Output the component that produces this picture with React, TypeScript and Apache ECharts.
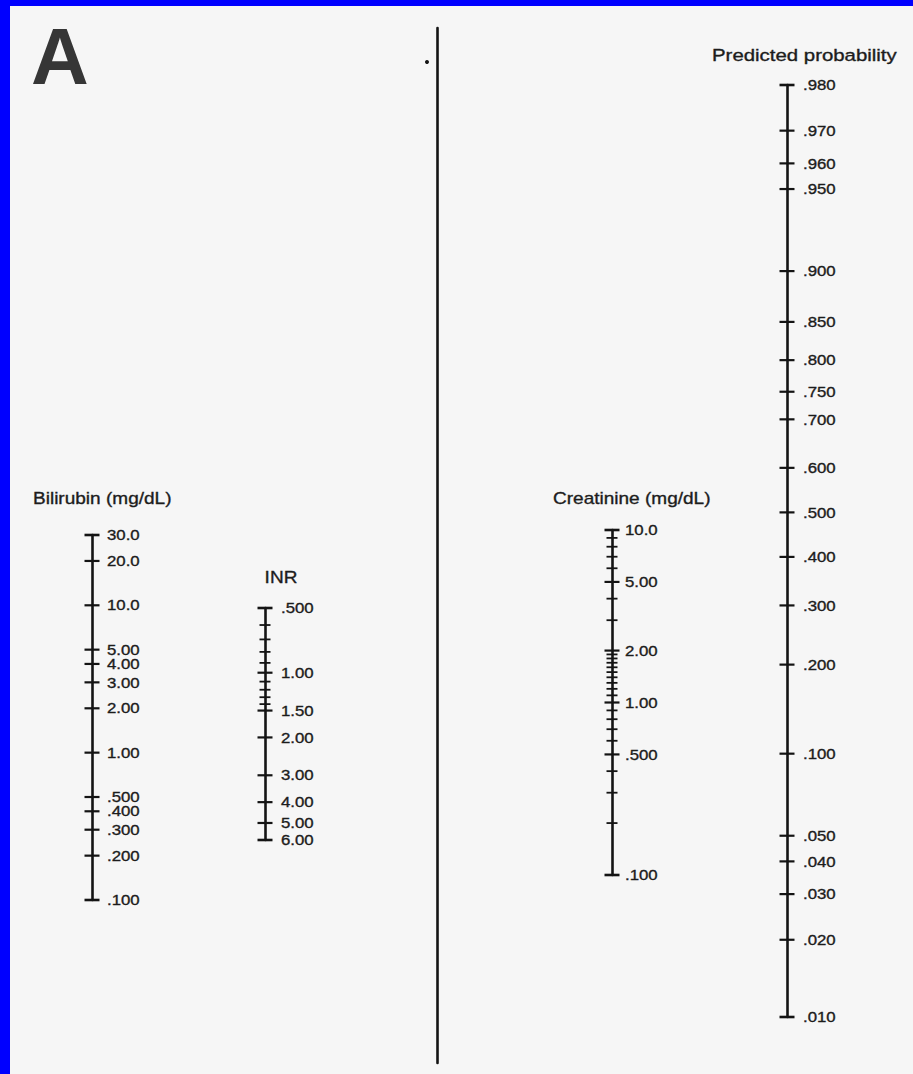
import React, { useEffect, useRef } from "react";
import * as echarts from "echarts";

// ---- data (tick values and their printed labels) ----
const bilirubinTicks = [30, 20, 10, 5, 4, 3, 2, 1, 0.5, 0.4, 0.3, 0.2, 0.1];
const bilirubinLabels = ["30.0", "20.0", "10.0", "5.00", "4.00", "3.00", "2.00", "1.00", ".500", ".400", ".300", ".200", ".100"];
const bilirubinMinor: number[] = [];

const inrTicks = [0.5, 1, 1.5, 2, 3, 4, 5, 6];
const inrLabels = [".500", "1.00", "1.50", "2.00", "3.00", "4.00", "5.00", "6.00"];
const inrMinor = [0.6, 0.7, 0.8, 0.9, 1.1, 1.2, 1.3, 1.4];

const creatinineTicks = [10, 5, 2, 1, 0.5, 0.1];
const creatinineLabels = ["10.0", "5.00", "2.00", "1.00", ".500", ".100"];
const creatinineMinor = [9, 8, 7, 6, 4, 3, 1.9, 1.8, 1.7, 1.6, 1.5, 1.4, 1.3, 1.2, 1.1, 0.9, 0.8, 0.7, 0.6, 0.4, 0.3, 0.2];

const probabilityTicks = [0.98, 0.97, 0.96, 0.95, 0.9, 0.85, 0.8, 0.75, 0.7, 0.6, 0.5, 0.4, 0.3, 0.2, 0.1, 0.05, 0.04, 0.03, 0.02, 0.01];
const probabilityLabels = [".980", ".970", ".960", ".950", ".900", ".850", ".800", ".750", ".700", ".600", ".500", ".400", ".300", ".200", ".100", ".050", ".040", ".030", ".020", ".010"];

const titles = ["Bilirubin (mg/dL)", "INR", "Creatinine (mg/dL)", "Predicted probability"];

const log10 = (v: number) => Math.log10(v);
const logit = (p: number) => Math.log(p / (1 - p));

const INK = "#141414";
const TEXT = "#1c1c1c";
const FONT = '"Liberation Sans", Arial, sans-serif';
const STRETCH = 1.12;

type Scale = {
  ticks: number[];
  labels: string[];
  minor: number[];
  tf: (v: number) => number;
  axisX: number;
  top: number;
  bottom: number;
  inverse: boolean;
  labelDx: number;
};

const scales: Scale[] = [
  { ticks: bilirubinTicks, labels: bilirubinLabels, minor: bilirubinMinor, tf: log10, axisX: 92, top: 535, bottom: 900, inverse: false, labelDx: 15 },
  { ticks: inrTicks, labels: inrLabels, minor: inrMinor, tf: log10, axisX: 265, top: 608, bottom: 840, inverse: true, labelDx: 16 },
  { ticks: creatinineTicks, labels: creatinineLabels, minor: creatinineMinor, tf: log10, axisX: 612, top: 530, bottom: 875, inverse: false, labelDx: 13 },
  { ticks: probabilityTicks, labels: probabilityLabels, minor: [], tf: logit, axisX: 787, top: 85, bottom: 1017, inverse: false, labelDx: 16 },
];

export default function App() {
  const ref = useRef<HTMLDivElement>(null);

  useEffect(() => {
    if (!ref.current) return;
    const chart = echarts.init(ref.current, undefined, { renderer: "svg" });

    const grids: any[] = [];
    const xAxes: any[] = [];
    const yAxes: any[] = [];
    const series: any[] = [];

    scales.forEach((s, gi) => {
      const tv = s.ticks.map(s.tf);
      const lo = Math.min(...tv);
      const hi = Math.max(...tv);
      grids.push({ left: s.axisX, top: s.top, height: s.bottom - s.top, width: 60 });
      xAxes.push({ gridIndex: gi, type: "value", min: 0, max: 1, show: false });
      yAxes.push({
        gridIndex: gi,
        type: "value",
        min: lo,
        max: hi,
        inverse: s.inverse,
        position: "left",
        axisLine: { show: true, lineStyle: { color: INK, width: 2.6 } },
        axisTick: { show: false },
        axisLabel: { show: false },
        splitLine: { show: false },
      });
      const n = s.ticks.length;
      const data: any[] = [];
      s.ticks.forEach((v, i) => {
        const isEnd = i === 0 || i === n - 1 ? 1 : 0;
        data.push([0, s.tf(v), i, 1, isEnd]);
      });
      s.minor.forEach((v) => data.push([0, s.tf(v), -1, 0, 0]));
      series.push({
        type: "custom",
        xAxisIndex: gi,
        yAxisIndex: gi,
        clip: false,
        silent: true,
        data,
        renderItem: (_params: any, api: any) => {
          const p = api.coord([0, api.value(1)]);
          const idx = api.value(2);
          const major = api.value(3) === 1;
          const isEnd = api.value(4) === 1;
          const half = major ? 7.5 : 5.5;
          const children: any[] = [
            {
              type: "line",
              shape: { x1: p[0] - half, y1: p[1], x2: p[0] + half, y2: p[1] },
              style: { stroke: INK, lineWidth: isEnd ? 2.6 : major ? 2.2 : 1.8 },
            },
          ];
          if (major) {
            children.push({
              type: "text",
              x: p[0] + s.labelDx,
              y: p[1],
              scaleX: STRETCH,
              style: {
                text: s.labels[idx],
                font: `15px ${FONT}`,
                fill: TEXT,
                stroke: TEXT,
                lineWidth: 0.35,
                align: "left",
                verticalAlign: "middle",
              },
            });
          }
          return { type: "group", children };
        },
      });
    });

    // central pivot line (unlabelled reference axis)
    const pi = scales.length;
    grids.push({ left: 437, top: 28, height: 1035, width: 10 });
    xAxes.push({ gridIndex: pi, type: "value", min: 0, max: 1, show: false });
    yAxes.push({
      gridIndex: pi,
      type: "value",
      min: 0,
      max: 1,
      position: "left",
      axisLine: { show: true, lineStyle: { color: INK, width: 2.6 } },
      axisTick: { show: false },
      axisLabel: { show: false },
      splitLine: { show: false },
    });

    const titleStyle = (text: string, align: string) => ({
      text,
      font: `17px ${FONT}`,
      fill: TEXT,
      stroke: TEXT,
      lineWidth: 0.35,
      align,
      verticalAlign: "middle",
    });

    chart.setOption({
      animation: false,
      backgroundColor: "#f6f6f6",
      grid: grids,
      xAxis: xAxes,
      yAxis: yAxes,
      series,
      graphic: [
        { type: "rect", shape: { x: 0, y: 0, width: 10, height: 1074 }, style: { fill: "#0000ff" }, z: 100 },
        { type: "rect", shape: { x: 0, y: 0, width: 913, height: 6 }, style: { fill: "#0000ff" }, z: 100 },
        {
          type: "text",
          x: 31,
          y: 56,
          style: { text: "A", font: `bold 80px ${FONT}`, fill: "#363636", align: "left", verticalAlign: "middle" },
        },
        { type: "circle", shape: { cx: 427, cy: 62, r: 2 }, style: { fill: INK } },
        { type: "text", x: 33, y: 498, scaleX: STRETCH, style: titleStyle(titles[0], "left") },
        { type: "text", x: 281, y: 577, scaleX: STRETCH, style: titleStyle(titles[1], "center") },
        { type: "text", x: 553, y: 498, scaleX: STRETCH, style: titleStyle(titles[2], "left") },
        { type: "text", x: 712, y: 55, scaleX: 1.2, style: titleStyle(titles[3], "left") },
      ],
    });

    return () => chart.dispose();
  }, []);

  return (
    <div
      ref={ref}
      style={{ position: "absolute", left: 0, top: 0, width: 913, height: 1074 }}
    />
  );
}
